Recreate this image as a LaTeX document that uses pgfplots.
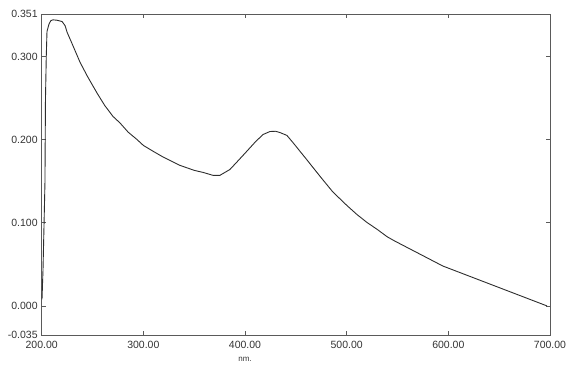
\documentclass[border=0pt]{standalone}
\usepackage{fontspec}
\setmainfont{Liberation Sans}
\usepackage{pgfplots}
\pgfplotsset{compat=1.18}
\usetikzlibrary{calc}
\definecolor{framegray}{RGB}{90,90,90}
\definecolor{curvegray}{RGB}{45,45,45}

\pgfplotstableread{
nm abs
200.3 0.008
201.3 0.044
202.3 0.098
203.2 0.148
203.7 0.248
204.5 0.300
205.2 0.330
207.2 0.339
209.0 0.343
211.1 0.344
215.0 0.3435
220.0 0.342
223.0 0.337
225.0 0.329
230.0 0.315
237.7 0.293
245.0 0.276
254.4 0.256
262.0 0.241
270.0 0.228
277.0 0.220
285.0 0.209
293.8 0.200
300.0 0.193
309.5 0.186
318.0 0.180
326.0 0.175
336.0 0.169
343.0 0.166
350.0 0.163
358.8 0.1605
368.5 0.157
375.3 0.157
380.2 0.1605
385.1 0.164
392.0 0.173
401.8 0.186
410.0 0.197
417.6 0.206
424.5 0.2097
430.0 0.2100
434.3 0.2085
441.2 0.205
447.1 0.1965
454.0 0.186
460.0 0.177
466.8 0.1665
475.0 0.154
486.4 0.137
500.0 0.121
510.0 0.110
519.8 0.1005
530.0 0.092
540.0 0.083
547.3 0.078
594.5 0.048
697.0 0.000
}\spectrum

\begin{document}
\begin{tikzpicture}
\begin{axis}[
    scale only axis,
    width=508.3bp,
    height=321bp,
    xmin=200, xmax=700,
    ymin=-0.035, ymax=0.351,
    xtick={200,300,400,500,600,700},
    ytick={-0.035,0,0.1,0.2,0.3,0.351},
    scaled ticks=false,
    /pgf/number format/assume math mode=true,
    xticklabel={\pgfmathprintnumber[fixed,fixed zerofill,precision=2]{\tick}},
    yticklabel={\pgfmathprintnumber[fixed,fixed zerofill,precision=3]{\tick}},
    tick align=inside,
    major tick length=4bp,
    tick style={framegray, line width=0.8pt},
    axis line style={framegray, line width=0.9pt},
    ticklabel style={font=\fontsize{10.5bp}{12bp}\selectfont, text=black!80},
    yticklabel style={anchor=east, xshift=-0.5bp},
    xticklabel style={yshift=-3bp},
]
\addplot[curvegray, line width=0.9pt] table[x=nm, y=abs] {\spectrum};
\coordinate (nmpos) at (axis cs:400,-0.035);
\end{axis}
\node[font=\fontsize{8bp}{9bp}\selectfont, text=black!80] at ($(nmpos)+(0,-24bp)$) {nm.};
\path[use as bounding box] ($(current axis.south west)+(-41.7bp,-29bp)$) rectangle ($(current axis.north east)+(22bp,14bp)$);
\end{tikzpicture}
\end{document}
